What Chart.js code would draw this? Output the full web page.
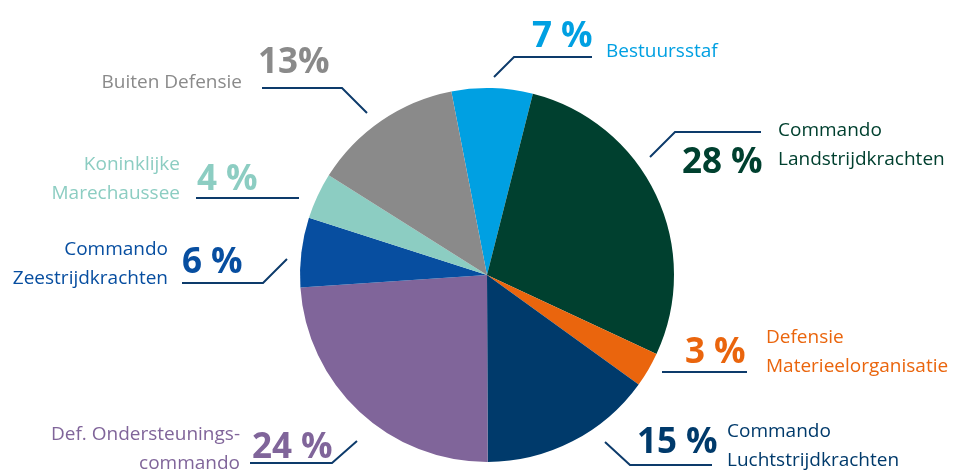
<!DOCTYPE html>
<html>
<head>
<meta charset="utf-8">
<script src="https://cdn.jsdelivr.net/npm/chart.js@4/dist/chart.umd.min.js"></script>
<style>
  html, body { margin: 0; padding: 0; background: #fff; }
  #wrap { width: 958px; height: 471px; position: relative; }
</style>
</head>
<body>
<div id="wrap"><canvas id="pie"></canvas></div>
<script>
// data
var labels = ['Bestuursstaf', 'Commando Landstrijdkrachten', 'Defensie Materieelorganisatie',
  'Commando Luchtstrijdkrachten', 'Def. Ondersteuningscommando', 'Commando Zeestrijdkrachten',
  'Koninklijke Marechaussee', 'Buiten Defensie'];
var values = [7, 28, 3, 15, 24, 6, 4, 13];
var pctText = ['7 %', '28 %', '3 %', '15 %', '24 %', '6 %', '4 %', '13%'];
var nameLines = [
  ['Bestuursstaf'],
  ['Commando', 'Landstrijdkrachten'],
  ['Defensie', 'Materieelorganisatie'],
  ['Commando', 'Luchtstrijdkrachten'],
  ['Def. Ondersteunings-', 'commando'],
  ['Commando', 'Zeestrijdkrachten'],
  ['Koninklijke', 'Marechaussee'],
  ['Buiten Defensie']
];
var colors = ['#00a0e2', '#00402f', '#ea650d', '#003a6b', '#80659a', '#074ea0', '#8ccdc2', '#8a8a8a'];

// where each callout sits (leader line, percentage, name)
var callouts = [
  { line: [[494, 77], [514, 57], [592, 57]], pct: [532, 47, 'left'], name: [606, 57, 'left'] },
  { line: [[650, 157], [675, 132], [761, 132]], pct: [682, 173, 'left'], name: [778, 136, 'left'] },
  { line: [[662, 372], [747, 372]], pct: [685, 363, 'left'], name: [766, 343, 'left'] },
  { line: [[605, 442], [630, 465], [712, 465]], pct: [637, 453, 'left'], name: [727, 437, 'left'] },
  { line: [[357, 441], [332, 463], [250, 463]], pct: [252, 458, 'left'], name: [240, 440, 'right'] },
  { line: [[287, 259], [263, 283], [182, 283]], pct: [182, 273, 'left'], name: [168, 255, 'right'] },
  { line: [[299, 198], [196, 198]], pct: [197, 190, 'left'], name: [180, 170, 'right'] },
  { line: [[367, 113], [342, 88], [262, 88]], pct: [258, 73, 'left'], name: [242, 88, 'right'] }
];

var lineColor = '#0d3b6b';
var fontFamily = '"Open Sans", "Noto Sans", sans-serif';

var calloutPlugin = {
  id: 'callouts',
  afterDraw: function(chart) {
    var ctx = chart.ctx;
    ctx.save();
    for (var i in callouts) {
      var c = callouts[i];
      ctx.strokeStyle = lineColor;
      ctx.lineWidth = 2;
      ctx.beginPath();
      ctx.moveTo(c.line[0][0], c.line[0][1]);
      for (var k = 1; k < c.line.length; k++) {
        ctx.lineTo(c.line[k][0], c.line[k][1]);
      }
      ctx.stroke();

      ctx.fillStyle = colors[i];
      ctx.textBaseline = 'alphabetic';
      ctx.font = 'bold 35px ' + fontFamily;
      ctx.textAlign = c.pct[2];
      ctx.fillText(pctText[i], c.pct[0], c.pct[1]);

      ctx.font = '19px ' + fontFamily;
      ctx.textAlign = c.name[2];
      var lines = nameLines[i];
      for (var j = 0; j < lines.length; j++) {
        ctx.fillText(lines[j], c.name[0], c.name[1] + j * 29);
      }
    }
    ctx.restore();
  }
};

var chart = new Chart(document.getElementById('pie').getContext('2d'), {
  type: 'pie',
  data: {
    labels: labels,
    datasets: [{
      data: values,
      backgroundColor: colors,
      borderWidth: 0
    }]
  },
  options: {
    responsive: true,
    maintainAspectRatio: false,
    animation: false,
    rotation: -11,
    layout: { padding: { top: 88, bottom: 9, left: 300, right: 284 } },
    plugins: {
      legend: { display: false },
      tooltip: { enabled: false }
    }
  },
  plugins: [calloutPlugin]
});
</script>
</body>
</html>
